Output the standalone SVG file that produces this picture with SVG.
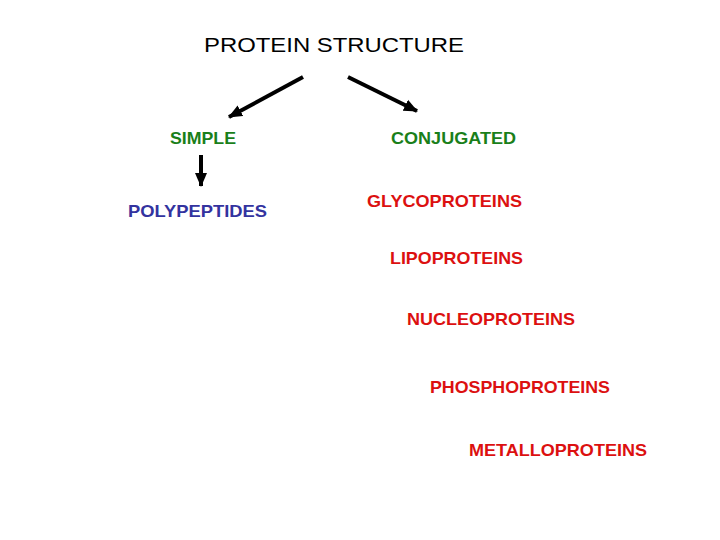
<svg xmlns="http://www.w3.org/2000/svg" width="720" height="540" viewBox="0 0 720 540">
<style>
.t{font-family:"Liberation Sans",Arial,sans-serif;font-size:17px;font-weight:bold}
.g{fill:#1a7f1a}.b{fill:#33339f}.r{fill:#dc1010}
.c{stroke:#000;stroke-width:4;fill:none}
</style>
<defs>
<marker id="ah" markerUnits="userSpaceOnUse" markerWidth="14" markerHeight="14" viewBox="0 0 14 14" refX="13" refY="7" orient="auto">
<path d="M0,1 L14,7 L0,13 Z" fill="#000"/>
</marker>
</defs>
<rect width="720" height="540" fill="#fff"/>
<g id="title"><text x="204" y="52" font-family="Liberation Sans,Arial,sans-serif" font-size="21" textLength="260" lengthAdjust="spacingAndGlyphs">PROTEIN STRUCTURE</text></g>
<g id="simple"><text class="t g" x="170" y="144" textLength="66" lengthAdjust="spacingAndGlyphs">SIMPLE</text></g>
<g id="polypeptides"><text class="t b" x="128" y="217" textLength="139" lengthAdjust="spacingAndGlyphs">POLYPEPTIDES</text></g>
<g id="conjugated"><text class="t g" x="391" y="144" textLength="125" lengthAdjust="spacingAndGlyphs">CONJUGATED</text></g>
<g id="glyco"><text class="t r" x="367" y="207" textLength="155" lengthAdjust="spacingAndGlyphs">GLYCOPROTEINS</text></g>
<g id="lipo"><text class="t r" x="390" y="264" textLength="133" lengthAdjust="spacingAndGlyphs">LIPOPROTEINS</text></g>
<g id="nucleo"><text class="t r" x="407" y="325" textLength="168" lengthAdjust="spacingAndGlyphs">NUCLEOPROTEINS</text></g>
<g id="phospho"><text class="t r" x="430" y="393" textLength="180" lengthAdjust="spacingAndGlyphs">PHOSPHOPROTEINS</text></g>
<g id="metallo"><text class="t r" x="469" y="456" textLength="178" lengthAdjust="spacingAndGlyphs">METALLOPROTEINS</text></g>
<g id="connectors">
<line class="c" x1="303" y1="77" x2="229" y2="117" marker-end="url(#ah)"/>
<line class="c" x1="348" y1="77" x2="417" y2="111" marker-end="url(#ah)"/>
<line class="c" x1="201" y1="155" x2="201" y2="186" marker-end="url(#ah)"/>
</g>
</svg>
